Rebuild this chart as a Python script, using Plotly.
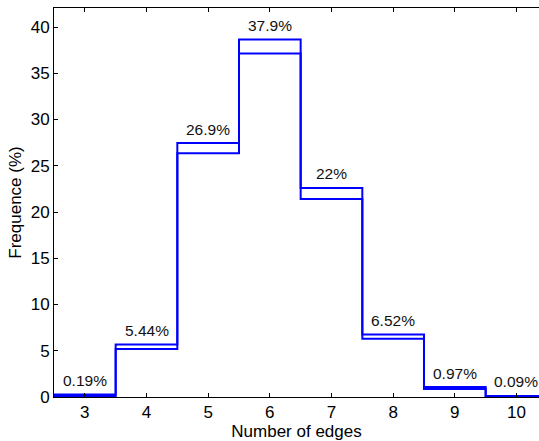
import plotly.graph_objects as go

# Number of edges per cell and the two measured frequency distributions (%)
edges = [3, 4, 5, 6, 7, 8, 9, 10]
freq_upper = [0.27, 5.68, 27.45, 38.65, 22.6, 6.75, 1.08, 0.12]
freq_lower = [0.11, 5.20, 26.35, 37.15, 21.4, 6.29, 0.86, 0.06]
pct_labels = ["0.19%", "5.44%", "26.9%", "37.9%", "22%", "6.52%", "0.97%", "0.09%"]

FONT = "Liberation Sans, Arial, Helvetica, sans-serif"
BLUE = "rgb(0,0,255)"

# Bin edges for a stairs-style outline centred on each integer
x_edges = [e - 0.5 for e in edges] + [edges[-1] + 0.5]

fig = go.Figure()
for series in (freq_upper, freq_lower):
    fig.add_trace(go.Scatter(
        x=x_edges,
        y=series + [series[-1]],
        mode="lines",
        line=dict(color=BLUE, width=2, shape="hv"),
        hoverinfo="skip",
        showlegend=False,
    ))

for xe, ye, txt in zip(edges, freq_upper, pct_labels):
    fig.add_annotation(
        x=xe, y=ye, text=txt, showarrow=False,
        yanchor="middle", yshift=14,
        font=dict(family=FONT, size=15.5, color="#111"),
    )

fig.update_layout(
    width=539, height=441,
    margin=dict(l=54, r=0, t=8, b=44),
    paper_bgcolor="white", plot_bgcolor="white",
    font=dict(family=FONT, color="black"),
)
fig.update_xaxes(
    range=[2.5, 10.365],
    tickmode="array", tickvals=edges, ticktext=[str(e) for e in edges],
    ticks="inside", ticklen=4, tickcolor="black",
    showline=True, linecolor="black", linewidth=1, mirror="ticks",
    showgrid=False, zeroline=False,
    tickfont=dict(size=17),
    title=dict(text="Number of edges", font=dict(size=17), standoff=2),
)
fig.update_yaxes(
    range=[0, 42.06],
    tickmode="array", tickvals=[0, 5, 10, 15, 20, 25, 30, 35, 40],
    ticks="inside", ticklen=4, tickcolor="black",
    showline=True, linecolor="black", linewidth=1,
    showgrid=False, zeroline=False,
    tickfont=dict(size=17),
    title=dict(text="Frequence (%)", font=dict(size=17), standoff=4),
)

fig.write_html("out.html")
